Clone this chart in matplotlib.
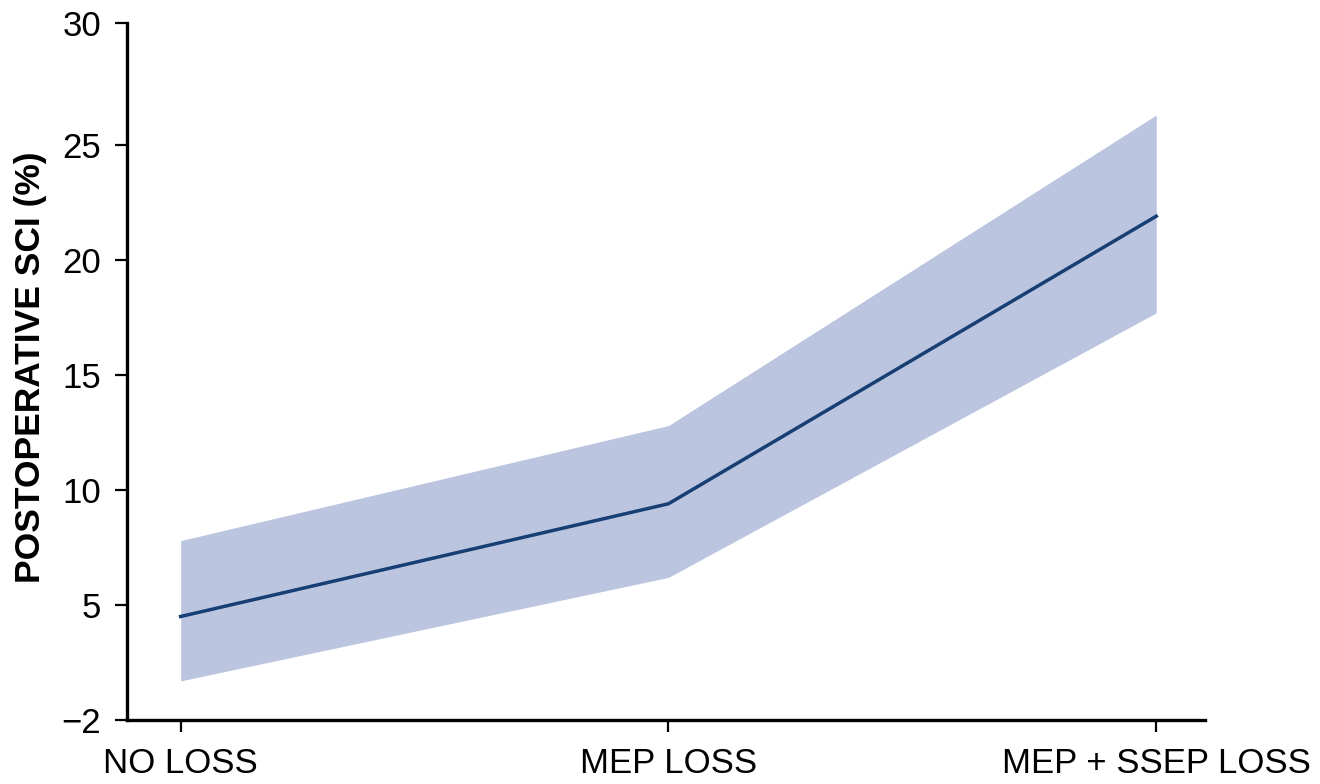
import matplotlib
matplotlib.use('Agg')
import matplotlib.pyplot as plt

plt.rcParams['font.family'] = ['Liberation Sans', 'DejaVu Sans']

categories = ['NO LOSS', 'MEP LOSS', 'MEP + SSEP LOSS']
sci_mean = [4.5, 9.4, 21.9]
sci_lower = [1.7, 6.2, 17.7]
sci_upper = [7.8, 12.8, 26.3]
ytick_vals = [0, 5, 10, 15, 20, 25, 30.3]
ytick_labels = ['\u22122', '5', '10', '15', '20', '25', '30']

fig = plt.figure(figsize=(13.2, 7.84), dpi=100)
ax = fig.add_axes([0.0962, 0.0816, 0.8167, 0.8891])

x = list(range(len(categories)))
ax.fill_between(x, sci_lower, sci_upper, color='#bcc5df', linewidth=0)
ax.plot(x, sci_mean, color='#173f73', linewidth=2.5)

ax.set_xlim(-0.11, 2.1)
ax.set_ylim(0, 30.3)
ax.set_xticks(x)
ax.set_xticklabels(categories)
ax.set_yticks(ytick_vals)
ax.set_yticklabels(ytick_labels)

for side in ['top', 'right']:
    ax.spines[side].set_visible(False)
for side in ['left', 'bottom']:
    ax.spines[side].set_linewidth(2.4)

ax.tick_params(axis='both', labelsize=25, length=8.5, width=1.6)
ax.tick_params(axis='y', pad=10)
ax.tick_params(axis='x', pad=11)

ax.set_ylabel('POSTOPERATIVE SCI (%)', fontsize=25.5, fontweight='bold')
ax.yaxis.set_label_coords(-0.074, 0.506)

plt.savefig('out.png', dpi=100)
plt.close()
